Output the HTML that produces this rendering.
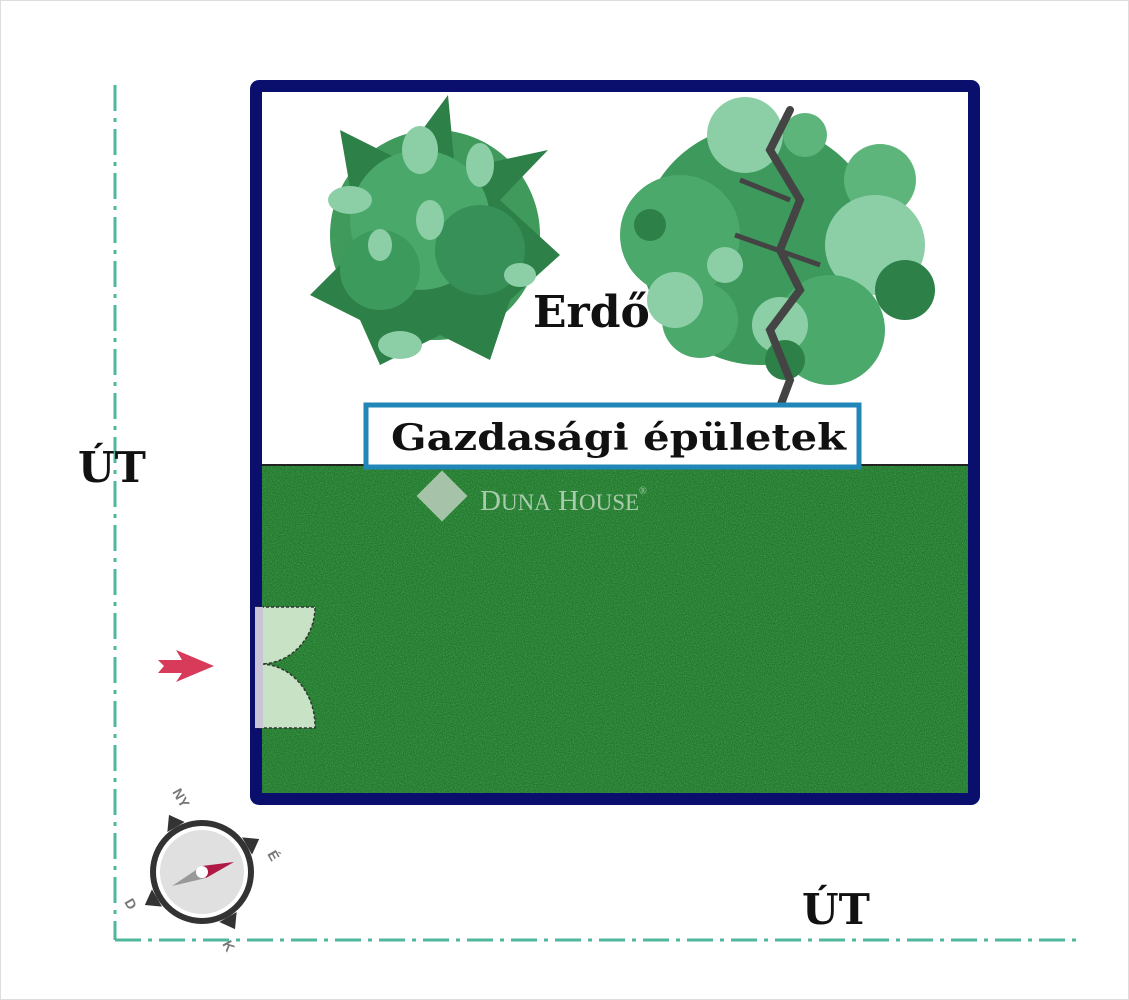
<!DOCTYPE html>
<html><head><meta charset="utf-8"><style>
html,body{margin:0;padding:0;background:#fff}
svg{display:block}
text{font-family:"DejaVu Serif","Liberation Serif",serif;font-weight:bold}
</style></head><body>
<svg width="1129" height="1000" viewBox="0 0 1129 1000" xmlns="http://www.w3.org/2000/svg">
<defs>
<filter id="n"><feTurbulence type="fractalNoise" baseFrequency="0.9" numOctaves="2" seed="3"/><feColorMatrix values="0 0 0 0 0.08  0 0 0 0 0.4  0 0 0 0 0.12  0 0 0 1.2 -0.3"/><feComposite in2="SourceGraphic" operator="in"/></filter>
</defs>
<rect x="0.5" y="0.5" width="1128" height="999" fill="#fff" stroke="#ddd"/>
<line x1="115" y1="85" x2="115" y2="940" stroke="#4fb79c" stroke-width="3" stroke-dasharray="26,7,4,7"/>
<line x1="115" y1="940" x2="1080" y2="940" stroke="#4fb79c" stroke-width="3" stroke-dasharray="26,7,4,7"/>
<rect x="256" y="86" width="718" height="713" fill="#fff" stroke="#0a0f6e" stroke-width="12" rx="3"/>
<rect x="262" y="465" width="706" height="328" fill="#1d7326"/>
<rect x="262" y="465" width="706" height="328" fill="#1d7326" filter="url(#n)"/>
<line x1="262" y1="465" x2="968" y2="465" stroke="#222" stroke-width="2"/>
<g>
<circle cx="435" cy="235" r="105" fill="#3f9a5c"/>
<polygon points="310,295 360,245 340,130 400,160 448,95 455,170 548,150 500,200 560,255 510,300 490,360 440,335 380,365 360,320" fill="#2e8049"/>
<circle cx="420" cy="220" r="70" fill="#4aa86a"/>
<circle cx="480" cy="250" r="45" fill="#379058"/>
<circle cx="380" cy="270" r="40" fill="#3d9a5d"/>
<ellipse cx="350" cy="200" rx="22" ry="14" fill="#8ccfa6"/>
<ellipse cx="420" cy="150" rx="18" ry="24" fill="#8ccfa6"/>
<ellipse cx="480" cy="165" rx="14" ry="22" fill="#8ccfa6"/>
<ellipse cx="400" cy="345" rx="22" ry="14" fill="#8ccfa6"/>
<ellipse cx="520" cy="275" rx="16" ry="12" fill="#8ccfa6"/>
<ellipse cx="430" cy="220" rx="14" ry="20" fill="#8ccfa6"/>
<ellipse cx="380" cy="245" rx="12" ry="16" fill="#8ccfa6"/>
</g>
<g>
<circle cx="760" cy="245" r="120" fill="#3d9a5c"/>
<circle cx="680" cy="235" r="60" fill="#4aa96b"/>
<circle cx="745" cy="135" r="38" fill="#8ccfa6"/>
<circle cx="805" cy="135" r="22" fill="#5db57c"/>
<circle cx="880" cy="180" r="36" fill="#5db57c"/>
<circle cx="875" cy="245" r="50" fill="#8ccfa6"/>
<circle cx="905" cy="290" r="30" fill="#2e8049"/>
<circle cx="830" cy="330" r="55" fill="#4aa96b"/>
<circle cx="780" cy="325" r="28" fill="#8ccfa6"/>
<circle cx="700" cy="320" r="38" fill="#4aa96b"/>
<circle cx="675" cy="300" r="28" fill="#8ccfa6"/>
<circle cx="725" cy="265" r="18" fill="#8ccfa6"/>
<circle cx="650" cy="225" r="16" fill="#2e8049"/>
<circle cx="785" cy="360" r="20" fill="#2e8049"/>
<path d="M775 420 L790 380 L770 330 L800 290 L780 250 L800 200 L770 150 L790 110" fill="none" stroke="#444" stroke-width="8" stroke-linecap="round"/>
<path d="M740 180 L790 200 M735 235 L820 265" stroke="#444" stroke-width="5" fill="none"/>
</g>
<text x="533" y="327" font-size="44" fill="#111">Erdő</text>
<rect x="366" y="405" width="493" height="62" fill="#fff" stroke="#2186b8" stroke-width="5"/>
<text x="391" y="450" font-size="36" fill="#111" textLength="455" lengthAdjust="spacingAndGlyphs">Gazdasági épületek</text>
<g opacity="0.75">
<rect x="424" y="478" width="36" height="36" transform="rotate(45 442 496)" fill="#cfd8cf"/>
<text x="480" y="510" font-size="29" fill="#d4e4d4" style="font-family:'Liberation Serif',serif;font-weight:normal">D<tspan font-size="23">UNA</tspan> H<tspan font-size="23">OUSE</tspan><tspan font-size="10" dy="-16">®</tspan></text>
</g>
<path d="M256 607 L315 607 A55 57 0 0 1 262 664 A55 62 0 0 1 315 728 L256 728 Z" fill="#c8e2c6" stroke="#333" stroke-width="1.5" stroke-dasharray="3,2"/>
<rect x="255" y="607" width="8" height="121" fill="#c9c5d6"/>
<polygon points="158,660 182,660 176,650 214,666 176,682 182,673 158,673 164,666" fill="#d83a5a"/>
<g transform="translate(202 872)">
<g transform="rotate(-30)" fill="#333">
<polygon points="-10,-52 0,-66 10,-52"/>
<polygon points="-10,52 0,66 10,52"/>
<polygon points="-52,-10 -66,0 -52,10"/>
<polygon points="52,-10 66,0 52,10"/>
</g>
<circle r="52" fill="#333"/>
<circle r="46" fill="#fff"/>
<circle r="42" fill="#e0e0e0"/>
<polygon points="-30,14 0,-6 4,6" fill="#999"/>
<polygon points="32,-10 0,-6 4,6" fill="#b01845"/>
<circle r="6" fill="#fff"/>
<text x="-30" y="-80" font-size="14" fill="#777" transform="rotate(60 -30 -80)" style="font-family:'Liberation Sans',sans-serif">NY</text>
<text x="65" y="-18" font-size="14" fill="#777" transform="rotate(60 65 -18)" style="font-family:'Liberation Sans',sans-serif">É</text>
<text x="-78" y="30" font-size="14" fill="#777" transform="rotate(60 -78 30)" style="font-family:'Liberation Sans',sans-serif">D</text>
<text x="20" y="72" font-size="14" fill="#777" transform="rotate(60 20 72)" style="font-family:'Liberation Sans',sans-serif">K</text>
</g>
<text x="78" y="482" font-size="42" fill="#111">ÚT</text>
<text x="802" y="924" font-size="42" fill="#111">ÚT</text>
</svg>
</body></html>
